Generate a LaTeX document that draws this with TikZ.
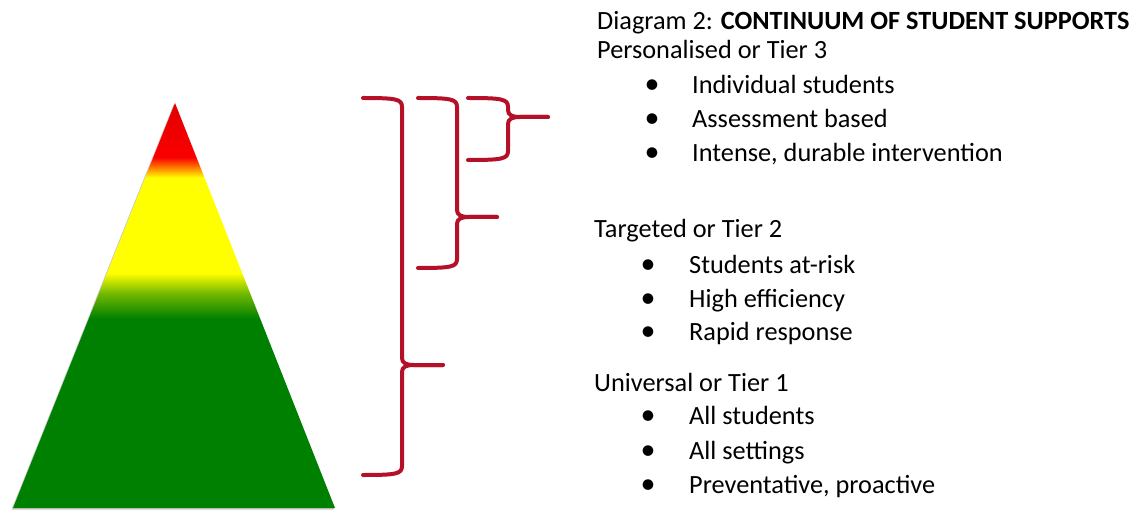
\documentclass[tikz,border=0pt]{standalone}
\usepackage{fontspec}
\setmainfont{Carlito}
\definecolor{bracecol}{RGB}{180,16,40}
\definecolor{pgreen}{RGB}{0,128,0}
\definecolor{pyellow}{RGB}{255,255,0}
\definecolor{pred}{RGB}{250,0,0}
\definecolor{pdred}{RGB}{225,0,0}
\pgfdeclareverticalshading{pyramid}{100bp}{%
  color(0bp)=(pgreen);
  color(25bp)=(pgreen);
  color(48.4bp)=(pgreen);
  color(51.5bp)=(pgreen!55!pyellow);
  color(54bp)=(pyellow);
  color(65.8bp)=(pyellow);
  color(67bp)=(orange);
  color(68.3bp)=(pred);
  color(75bp)=(pdred);
  color(100bp)=(pdred)}
\begin{document}
\begin{tikzpicture}[x=1pt,y=-1pt,
  bracestyle/.style={draw=bracecol,line width=4pt,line cap=round,line join=round},
  txt/.style={anchor=base west,inner sep=0pt,font=\fontsize{26.3}{30}\selectfont},
  bul/.style={anchor=base,inner sep=0pt,font=\fontsize{30}{30}\selectfont}]
\useasboundingbox (0,0) rectangle (1141,513);
% pyramid shadow
\fill[black!35,opacity=0.6] (173.5,104.5) -- (11.5,509.5) -- (334,509.5) -- cycle;
% pyramid
\shade[shading=pyramid] (175,103) -- (13,508) -- (335,508) -- cycle;
% braces: left, spine, tip end, top, mid, bottom
\newcommand{\mybrace}[6]{%
  \draw[bracestyle] (#1,#4) .. controls (#2-6,#4) and (#2,#4+1) .. (#2,#4+9)
     -- (#2,#5-7) .. controls (#2,#5-2) and (#2+4,#5) .. (#2+12,#5) -- (#3,#5);
  \draw[bracestyle] (#3,#5) -- (#2+12,#5) .. controls (#2+4,#5) and (#2,#5+2) .. (#2,#5+7)
     -- (#2,#6-9) .. controls (#2,#6-1) and (#2-6,#6) .. (#1,#6);}
\mybrace{363}{402}{443}{98}{365}{475}
\mybrace{418}{457}{497}{98}{217}{268}
\mybrace{468}{508}{548}{98}{117}{160}
% texts
\node[txt] (title) at (597,29.5) {Diagram 2: \textbf{CONTINUUM OF STUDENT SUPPORTS}};
\node[txt] (t3) at (597,58.5) {Personalised or Tier 3};
\node[bul] (b31) at (652,93.5) {•};
\node[txt] (t31) at (692,93.5) {Individual students};
\node[bul] (b32) at (652,127.5) {•};
\node[txt] (t32) at (692,127.5) {Assessment based};
\node[bul] (b33) at (652,161.5) {•};
\node[txt] (t33) at (692,161.5) {Intense, durable intervention};
\node[txt] (t2) at (594,238) {Targeted or Tier 2};
\node[bul] (b21) at (648,273) {•};
\node[txt] (t21) at (689,273) {Students at-risk};
\node[bul] (b22) at (648,307) {•};
\node[txt] (t22) at (689,307) {High efficiency};
\node[bul] (b23) at (648,340) {•};
\node[txt] (t23) at (689,340) {Rapid response};
\node[txt] (t1) at (594,391) {Universal or Tier 1};
\node[bul] (b11) at (648,424) {•};
\node[txt] (t11) at (689,424) {All students};
\node[bul] (b12) at (648,459) {•};
\node[txt] (t12) at (689,459) {All settings};
\node[bul] (b13) at (648,493) {•};
\node[txt] (t13) at (689,493) {Preventative, proactive};
\end{tikzpicture}
\end{document}
